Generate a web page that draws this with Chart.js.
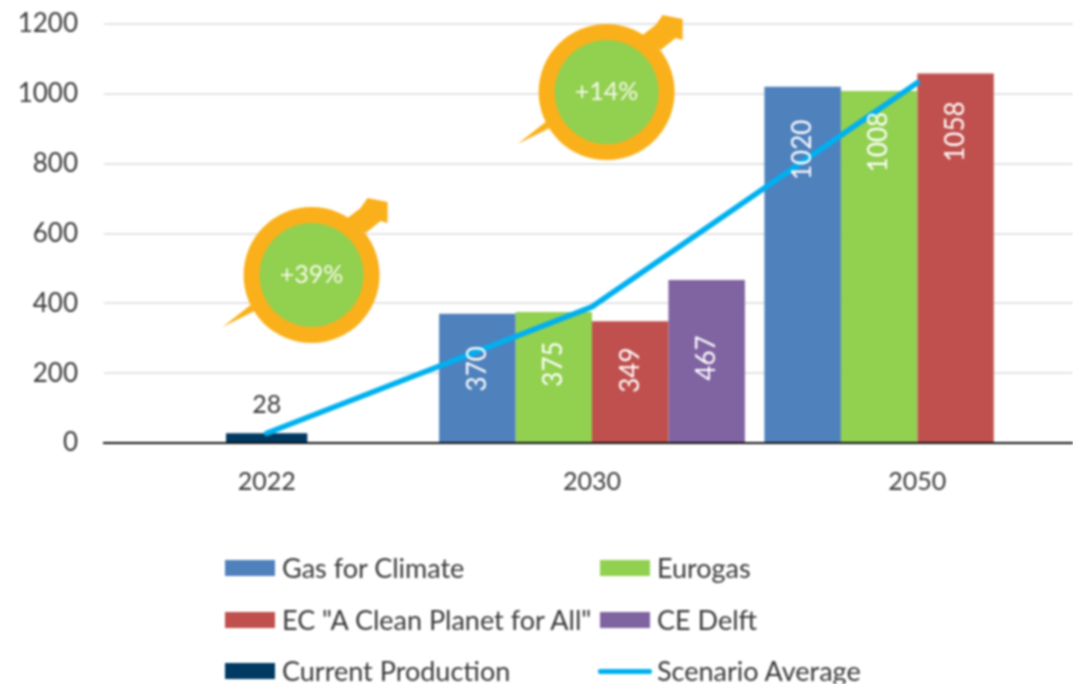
<!DOCTYPE html>
<html>
<head>
<meta charset="utf-8">
<script src="https://cdn.jsdelivr.net/npm/chart.js@4"></script>
<style>
html,body{margin:0;padding:0;background:#fff;width:1073px;height:684px;overflow:hidden}
#wrap{position:relative;width:1073px;height:684px;overflow:hidden;filter:blur(0.8px);font-family:Lato,sans-serif}
canvas{position:absolute;left:0;top:0}
.lg{position:absolute;height:30px;line-height:30px;font-size:27px;color:#3a3a3a;white-space:nowrap}
.sw{position:absolute;width:50px;height:16px;left:0;top:7px}
.sw.ln{width:54px;height:5px;top:13px;left:-2px;border-radius:2px}
.lg span{position:absolute;left:57px;top:0}
</style>
</head>
<body>
<div id="wrap"><canvas id="c" width="1100" height="684" style="width:1100px;height:684px"></canvas></div>
<script>
const categories = ['2022','2030','2050'];
const gasForClimate = [null,370,1020];
const eurogas = [null,375,1008];
const ecCleanPlanet = [null,349,1058];
const ceDelft = [null,467,null];
const currentProduction = [28,null,null];
const scenarioAverage = [28,390,1032];
const yTicks = [0,200,400,600,800,1000,1200];
const calloutLabels = ['+39%','+14%'];
const calloutX = [0.138,1.045];
const calloutY = [481,1005];

const FONT='Lato, sans-serif';
const dropByDataset = {0:[0,55,63],1:[0,52,51],2:[0,49,58],3:[0,78,0]};

const overlay = {
  id:'overlay',
  afterDatasetsDraw(chart){
    const ctx=chart.ctx,xs=chart.scales.x,ys=chart.scales.y;
    ctx.save();
    [0,1,2,3].forEach(d=>{
      chart.getDatasetMeta(d).data.forEach((bar,i)=>{
        const v=chart.data.datasets[d].data[i];
        if(v==null) return;
        ctx.save();
        ctx.translate(bar.x,bar.y+dropByDataset[d][i]);
        ctx.rotate(-Math.PI/2);
        ctx.fillStyle='#ffffff';
        ctx.font='26px '+FONT;
        ctx.textAlign='center';ctx.textBaseline='middle';
        ctx.fillText(String(v),0,0);
        ctx.restore();
      });
    });
    const b=chart.getDatasetMeta(4).data[0];
    ctx.fillStyle='#3a3a3a';ctx.font='25px '+FONT;
    ctx.textAlign='center';ctx.textBaseline='middle';
    ctx.fillText(String(currentProduction[0]),b.x,b.y-28);
    ctx.restore();
    calloutLabels.forEach((t,i)=>{
      const cx=xs.getPixelForValue(calloutX[i]),cy=ys.getPixelForValue(calloutY[i]);
      ctx.save();ctx.translate(cx,cy);
      ctx.fillStyle='#FAB01A';
      ctx.beginPath();
      [[36,-57],[49,-67],[56,-77],[76,-73],[76,-52],[69,-54],[54,-42]].forEach((p,k)=>k?ctx.lineTo(p[0],p[1]):ctx.moveTo(p[0],p[1]));
      ctx.closePath();ctx.fill();
      ctx.beginPath();ctx.moveTo(-61,30);ctx.lineTo(-89,52);ctx.lineTo(-57,36);ctx.closePath();ctx.fill();
      ctx.beginPath();ctx.arc(0,0,68,0,Math.PI*2);ctx.fill();
      ctx.fillStyle='#92D050';
      ctx.beginPath();ctx.arc(0,0,52,0,Math.PI*2);ctx.fill();
      ctx.fillStyle='#f4f9ec';ctx.font='25px '+FONT;
      ctx.textAlign='center';ctx.textBaseline='middle';
      ctx.fillText(t,0,0);
      ctx.restore();
    });
  }
};

const barBase={type:'bar',order:2,categoryPercentage:0.94,barPercentage:1};
const chart=new Chart(document.getElementById('c'),{
  data:{labels:categories,datasets:[
    {...barBase,label:'Gas for Climate',data:gasForClimate,backgroundColor:'#4F81BD'},
    {...barBase,label:'Eurogas',data:eurogas,backgroundColor:'#92D050'},
    {...barBase,label:'EC "A Clean Planet for All"',data:ecCleanPlanet,backgroundColor:'#C0504D'},
    {...barBase,label:'CE Delft',data:ceDelft,backgroundColor:'#8064A2'},
    {type:'bar',order:2,label:'Current Production',data:currentProduction,backgroundColor:'#003A63',grouped:false,barPercentage:0.25,categoryPercentage:1},
    {type:'line',order:1,label:'Scenario Average',data:scenarioAverage,borderColor:'#00B0F0',backgroundColor:'#00B0F0',borderWidth:5.5,pointRadius:0,tension:0,borderCapStyle:'round',spanGaps:true}
  ]},
  options:{
    responsive:false,animation:false,
    layout:{padding:{top:24,right:20,left:0,bottom:0}},
    plugins:{legend:{display:false},tooltip:{enabled:false}},
    scales:{
      x:{
        grid:{display:false,drawTicks:false},
        border:{color:'#111',width:2},
        ticks:{color:'#3a3a3a',font:{family:FONT,size:25},padding:24,maxRotation:0},
        afterFit(s){s.height=241;}
      },
      y:{
        min:0,max:1200,
        afterBuildTicks(s){s.ticks=yTicks.map(v=>({value:v}));},
        grid:{color:'#e4e4e4',lineWidth:2,drawTicks:false},
        border:{display:false},
        ticks:{color:'#3a3a3a',font:{family:FONT,size:26},padding:26,callback:v=>String(v)},
        afterFit(s){s.width=104;s.paddingTop=0;s.paddingBottom=0;}
      }
    }
  },
  plugins:[overlay]
});

// Two-column legend, built from the chart's datasets
const wrap=document.getElementById('wrap');
chart.data.datasets.forEach((d,i)=>{
  const el=document.createElement('div');el.className='lg';
  el.style.left=(i%2?600:225)+'px';
  el.style.top=[553,605,656][Math.floor(i/2)]+'px';
  const sw=document.createElement('div');
  sw.className='sw'+(d.type==='line'?' ln':'');
  sw.style.background=d.backgroundColor;
  const tx=document.createElement('span');tx.textContent=d.label;
  el.appendChild(sw);el.appendChild(tx);wrap.appendChild(el);
});
</script>
</body>
</html>
